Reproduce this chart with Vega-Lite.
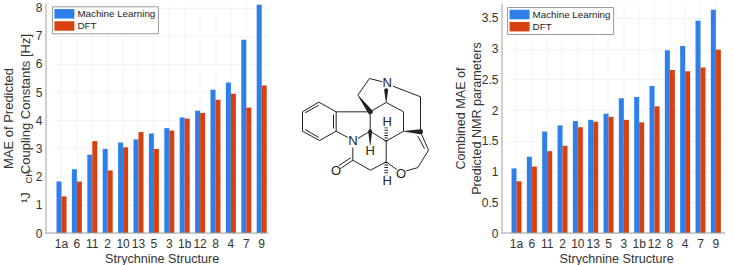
{"$schema":"https://vega.github.io/schema/vega-lite/v6.json","background":"white","padding":{"left":2.5,"top":1,"right":0,"bottom":0},"bounds":"flush","spacing":16,
"config":{"view":{"stroke":null},"font":"Liberation Sans","axis":{"labelFont":"Liberation Sans","titleFont":"Liberation Sans","labelColor":"#333333","titleColor":"#333333","labelFontSize":12,"titleFontSize":12.6,"titleFontWeight":"normal","titleLineHeight":16.5,"gridColor":"#eef0f2","gridWidth":0.8,"domainColor":"#a0a0a0","ticks":false,"labelOverlap":false},
"legend":{"labelFont":"Liberation Sans","labelColor":"#222222","labelFontSize":9.8,"orient":"none","title":null,"fillColor":"white","strokeColor":"#999999","padding":2.5,"symbolType":"M-1,-0.95H3V0.95H-1Z","symbolSize":100,"symbolStrokeWidth":0,"rowPadding":2.2,"labelOffset":13}},
"datasets":{"a":[
{"s":"1a","m":"Machine Learning","v":1.83},{"s":"1a","m":"DFT","v":1.3},{"s":"6","m":"Machine Learning","v":2.26},{"s":"6","m":"DFT","v":1.83},{"s":"11","m":"Machine Learning","v":2.78},{"s":"11","m":"DFT","v":3.26},{"s":"2","m":"Machine Learning","v":2.98},{"s":"2","m":"DFT","v":2.22},{"s":"10","m":"Machine Learning","v":3.21},{"s":"10","m":"DFT","v":3.04},{"s":"13","m":"Machine Learning","v":3.32},{"s":"13","m":"DFT","v":3.58},{"s":"5","m":"Machine Learning","v":3.53},{"s":"5","m":"DFT","v":2.98},{"s":"3","m":"Machine Learning","v":3.72},{"s":"3","m":"DFT","v":3.64},{"s":"1b","m":"Machine Learning","v":4.1},{"s":"1b","m":"DFT","v":4.06},{"s":"12","m":"Machine Learning","v":4.34},{"s":"12","m":"DFT","v":4.26},{"s":"8","m":"Machine Learning","v":5.08},{"s":"8","m":"DFT","v":4.73},{"s":"4","m":"Machine Learning","v":5.34},{"s":"4","m":"DFT","v":4.94},{"s":"7","m":"Machine Learning","v":6.86},{"s":"7","m":"DFT","v":4.45},{"s":"9","m":"Machine Learning","v":8.1},{"s":"9","m":"DFT","v":5.23}],
"b":[
{"s":"1a","m":"Machine Learning","v":1.05},{"s":"1a","m":"DFT","v":0.84},{"s":"6","m":"Machine Learning","v":1.24},{"s":"6","m":"DFT","v":1.08},{"s":"11","m":"Machine Learning","v":1.65},{"s":"11","m":"DFT","v":1.33},{"s":"2","m":"Machine Learning","v":1.75},{"s":"2","m":"DFT","v":1.42},{"s":"10","m":"Machine Learning","v":1.82},{"s":"10","m":"DFT","v":1.72},{"s":"13","m":"Machine Learning","v":1.84},{"s":"13","m":"DFT","v":1.81},{"s":"5","m":"Machine Learning","v":1.94},{"s":"5","m":"DFT","v":1.89},{"s":"3","m":"Machine Learning","v":2.19},{"s":"3","m":"DFT","v":1.84},{"s":"1b","m":"Machine Learning","v":2.21},{"s":"1b","m":"DFT","v":1.8},{"s":"12","m":"Machine Learning","v":2.39},{"s":"12","m":"DFT","v":2.06},{"s":"8","m":"Machine Learning","v":2.97},{"s":"8","m":"DFT","v":2.65},{"s":"4","m":"Machine Learning","v":3.04},{"s":"4","m":"DFT","v":2.63},{"s":"7","m":"Machine Learning","v":3.45},{"s":"7","m":"DFT","v":2.69},{"s":"9","m":"Machine Learning","v":3.63},{"s":"9","m":"DFT","v":2.98}],
"bonds":[
{"x":103,"y":126,"x2":155,"y2":155},{"x":155,"y":155,"x2":155,"y2":213},{"x":155,"y":213,"x2":105,"y2":241},{"x":105,"y":241,"x2":54,"y2":213},{"x":54,"y":213,"x2":54,"y2":155},{"x":54,"y":155,"x2":103,"y2":126},
{"x":62,"y":158,"x2":103,"y2":135},{"x":147,"y":163,"x2":147,"y2":205},{"x":62,"y":208,"x2":103,"y2":232},
{"x":155,"y":213,"x2":190,"y2":232},{"x":155,"y":155,"x2":257,"y2":155},{"x":257,"y":155,"x2":257,"y2":213},{"x":257,"y":213,"x2":220,"y2":235},
{"x":220,"y":105,"x2":255,"y2":55},{"x":255,"y":55,"x2":293,"y2":65},{"x":325,"y":78,"x2":408,"y2":110},{"x":408,"y":110,"x2":408,"y2":215},
{"x":305,"y":127,"x2":257,"y2":155},{"x":305,"y":127,"x2":357,"y2":155},{"x":357,"y":155,"x2":357,"y2":213},{"x":357,"y":213,"x2":305,"y2":243},{"x":305,"y":243,"x2":257,"y2":213},{"x":305,"y":243,"x2":305,"y2":305},
{"x":305,"y":305,"x2":258,"y2":330},{"x":258,"y":330,"x2":205,"y2":300},{"x":205,"y":300,"x2":205,"y2":262},{"x":205,"y":300,"x2":168,"y2":325},{"x":198,"y":293,"x2":163,"y2":316},
{"x":305,"y":305,"x2":337,"y2":328},{"x":365,"y":332,"x2":400,"y2":322},{"x":400,"y":322,"x2":432,"y2":270},{"x":432,"y":270,"x2":408,"y2":215},{"x":420,"y":265,"x2":400,"y2":228}],
"hash":[{"x":305,"y":243,"x2":305,"y2":202},{"x":305,"y":305,"x2":305,"y2":345}],
"wedge":[
{"b":"a","x":257,"y":213,"w":4},{"b":"a","x":257,"y":255,"w":0.5},
{"b":"b","x":257,"y":155,"w":5},{"b":"b","x":220,"y":105,"w":0.5},
{"b":"c","x":305,"y":127,"w":0.5},{"b":"c","x":305,"y":90,"w":4},
{"b":"d","x":357,"y":213,"w":0.5},{"b":"d","x":408,"y":215,"w":5}],
"atoms":[{"t":"N","x":205,"y":243},{"t":"N","x":308,"y":70},{"t":"O","x":155,"y":332},{"t":"O","x":350,"y":340},{"t":"H","x":257,"y":272},{"t":"H","x":308,"y":185},{"t":"H","x":308,"y":362}]},
"hconcat":[
{"width":223,"height":230,"layer":[
{"data":{"name":"a"},"mark":{"type":"bar"},"encoding":{
"x":{"field":"s","type":"nominal","sort":null,"title":"Strychnine Structure","scale":{"domain":["1a","6","11","2","10","13","5","3","1b","12","8","4","7","9"],"range":[8.3,223.9],"paddingInner":0.35,"paddingOuter":0.175},"axis":{"labelAngle":0,"domain":false,"grid":true,"labelPadding":5,"titleY":19.5}},
"xOffset":{"field":"m","sort":["Machine Learning","DFT"]},
"y":{"field":"v","type":"quantitative","title":["MAE of Predicted","\u00b9J\u00a0\u00a0\u00a0\u00a0\u00a0Coupling Constants [Hz]"],"scale":{"domain":[0,8.16],"nice":false},"axis":{"values":[0,1,2,3,4,5,6,7,8],"grid":true,"labelPadding":3.5,"titlePadding":3,"titleFontSize":13}},
"color":{"field":"m","type":"nominal","sort":["Machine Learning","DFT"],"scale":{"domain":["Machine Learning","DFT"],"range":["#2f7fea","#d9400f"]},"legend":{"legendX":6.4,"legendY":3.3}}}},
{"data":{"values":[{"y":0}]},"mark":{"type":"rule","color":"#a0a0a0"},"encoding":{"y":{"field":"y","type":"quantitative","title":["MAE of Predicted","\u00b9J\u00a0\u00a0\u00a0\u00a0\u00a0Coupling Constants [Hz]"],"axis":{"values":[0,1,2,3,4,5,6,7,8],"grid":true,"labelPadding":3.5,"titlePadding":3,"titleFontSize":13}}}},
{"data":{"values":[{"t":"CH","y":2.0}]},"mark":{"type":"text","angle":270,"fontSize":9.5,"color":"#333333","font":"Liberation Sans"},"encoding":{"x":{"value":-17},"y":{"field":"y","type":"quantitative","title":["MAE of Predicted","\u00b9J\u00a0\u00a0\u00a0\u00a0\u00a0Coupling Constants [Hz]"],"axis":{"values":[0,1,2,3,4,5,6,7,8],"grid":true,"labelPadding":3.5,"titlePadding":3,"titleFontSize":13}},"text":{"field":"t"}}}
],"resolve":{"scale":{"x":"shared","y":"shared"}}},
{"width":201,"height":230,"layer":[
{"data":{"name":"bonds"},"mark":{"type":"rule","color":"#222222","strokeWidth":1},"encoding":{"x":{"field":"x","type":"quantitative","scale":{"domain":[0,603],"nice":false,"zero":false},"axis":null},"y":{"field":"y","type":"quantitative","scale":{"domain":[-171,518],"reverse":true,"nice":false,"zero":false},"axis":null},"x2":{"field":"x2"},"y2":{"field":"y2"}}},
{"data":{"name":"hash"},"mark":{"type":"rule","color":"#222222","strokeWidth":3.5,"strokeDash":[1,1.6]},"encoding":{"x":{"field":"x","type":"quantitative"},"y":{"field":"y","type":"quantitative"},"x2":{"field":"x2"},"y2":{"field":"y2"}}},
{"data":{"name":"wedge"},"mark":{"type":"trail","color":"#222222"},"encoding":{"x":{"field":"x","type":"quantitative"},"y":{"field":"y","type":"quantitative"},"detail":{"field":"b"},"size":{"field":"w","type":"quantitative","scale":{"domain":[0,5],"range":[0,5]},"legend":null}}},
{"data":{"name":"atoms"},"mark":{"type":"text","fontSize":13,"color":"#222222","font":"Liberation Sans"},"encoding":{"x":{"field":"x","type":"quantitative"},"y":{"field":"y","type":"quantitative"},"text":{"field":"t"}}}
]},
{"width":224,"height":230,"layer":[
{"data":{"name":"b"},"mark":{"type":"bar"},"encoding":{
"x":{"field":"s","type":"nominal","sort":null,"title":"Strychnine Structure","scale":{"domain":["1a","6","11","2","10","13","5","3","1b","12","8","4","7","9"],"range":[7.33,222],"paddingInner":0.35,"paddingOuter":0.175},"axis":{"labelAngle":0,"domain":false,"grid":true,"labelPadding":5,"titleY":19.5}},
"xOffset":{"field":"m","sort":["Machine Learning","DFT"]},
"y":{"field":"v","type":"quantitative","title":["Combined MAE of","Predicted NMR parameters"],"scale":{"domain":[0,3.74],"nice":false},"axis":{"values":[0,0.5,1,1.5,2,2.5,3,3.5],"format":"~g","grid":true,"labelPadding":3.5,"titlePadding":-2.5}},
"color":{"field":"m","type":"nominal","sort":["Machine Learning","DFT"],"scale":{"domain":["Machine Learning","DFT"],"range":["#2f7fea","#d9400f"]},"legend":{"legendX":5.6,"legendY":4}}}},
{"data":{"values":[{"y":0}]},"mark":{"type":"rule","color":"#a0a0a0"},"encoding":{"y":{"field":"y","type":"quantitative","title":["Combined MAE of","Predicted NMR parameters"],"axis":{"values":[0,0.5,1,1.5,2,2.5,3,3.5],"format":"~g","grid":true,"labelPadding":3.5,"titlePadding":-2.5}}}}
]}
],"resolve":{"scale":{"color":"independent","x":"independent","y":"independent"}}}
